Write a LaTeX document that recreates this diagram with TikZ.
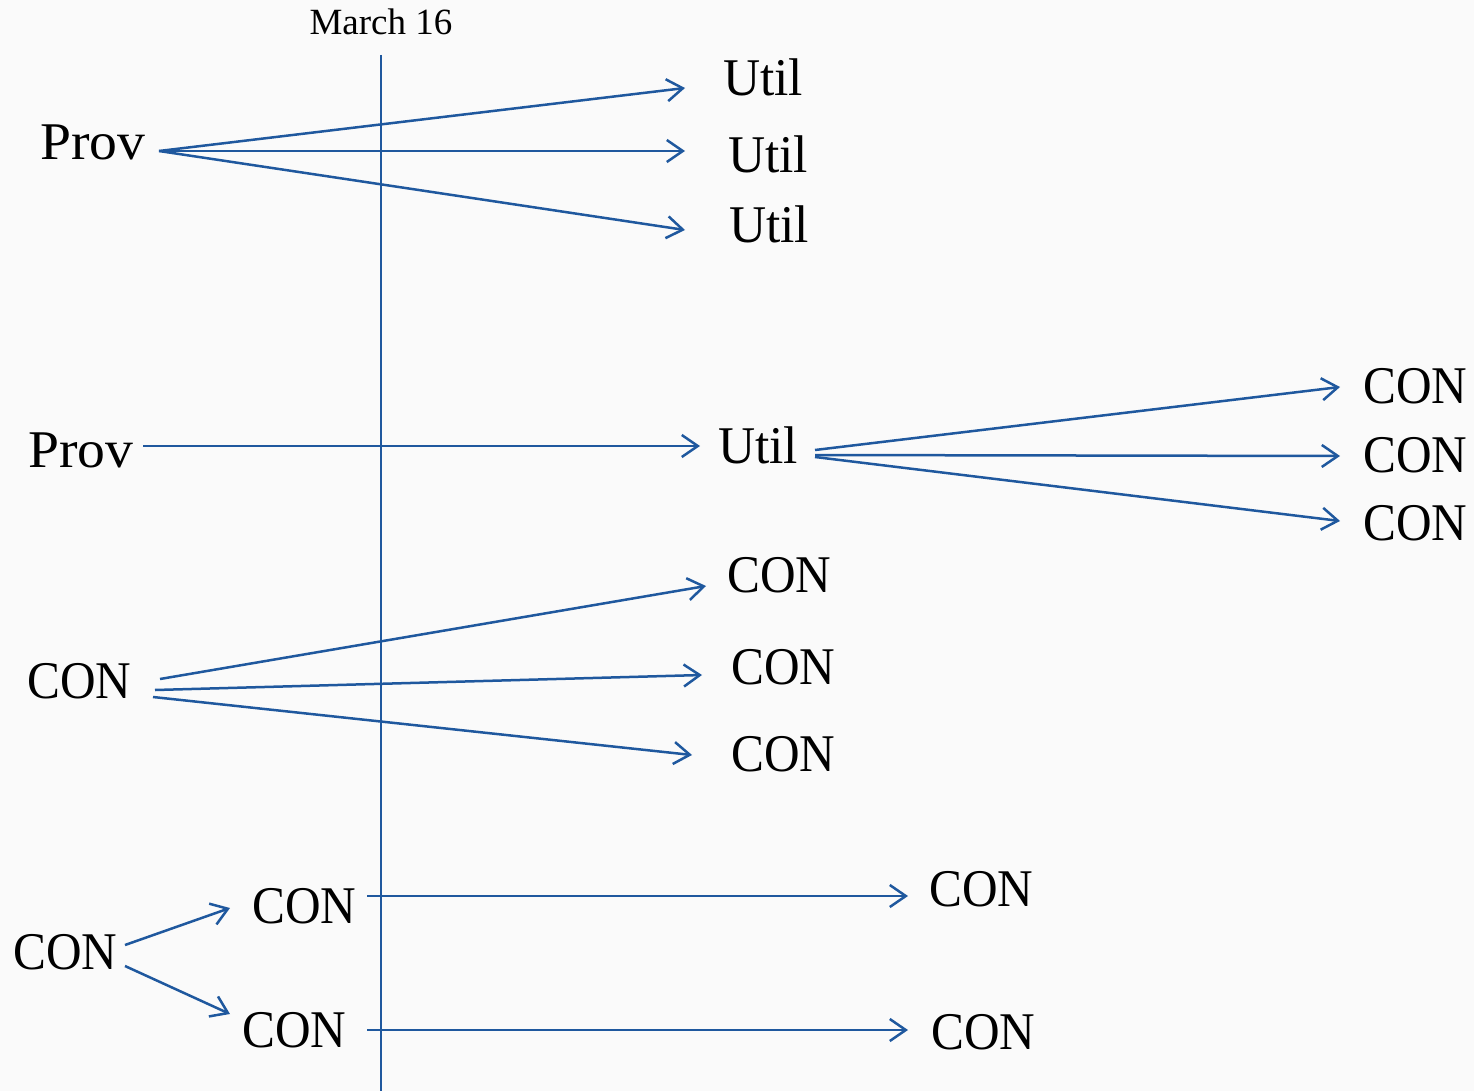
\documentclass[tikz,border=0pt]{standalone}
\usepackage{fontspec}
\usepackage{graphicx}
\setmainfont{Liberation Serif}
\usetikzlibrary{arrows.meta}
\definecolor{lineblue}{RGB}{31,88,158}
\definecolor{bgc}{RGB}{250,250,250}
\newcommand{\mycon}{\scalebox{0.93}[1]{CON}}
\newcommand{\myutil}{\scalebox{0.97}[1]{Util}}
\newcommand{\myprov}{\scalebox{1.05}[1]{Prov}}
\tikzset{
  lbl/.style={anchor=base west, inner sep=0pt, font=\fontsize{53}{60}\selectfont},
  arr/.style={draw=lineblue, line width=2.5pt, -{Straight Barb[length=16pt,width=22pt,line width=2.5pt]}},
  vline/.style={draw=lineblue, line width=2.5pt}
}
\begin{document}
\begin{tikzpicture}[x=1pt,y=-1pt]
\fill[bgc] (0,0) rectangle (1474,1091);
\useasboundingbox (0,0) rectangle (1474,1091);
% timeline
\node[anchor=base, inner sep=0pt, font=\fontsize{37}{44}\selectfont] (ttl) at (381,35) {March 16};
\coordinate (tl) at (381,55);
\coordinate (bl) at (381,1091);
\draw[vline] (tl) -- (bl);
% group 1
\node[lbl] (p1) at (40,160) {\myprov};
\node[lbl] (u1) at (723,96) {\myutil};
\node[lbl] (u2) at (728,173) {\myutil};
\node[lbl] (u3) at (729,243) {\myutil};
\draw[arr] ([shift={(119,-9)}]p1.base west) -- ([shift={(-38,-8)}]u1.base west);
\draw[arr] ([shift={(119,-9)}]p1.base west) -- ([shift={(-43,-22)}]u2.base west);
\draw[arr] ([shift={(119,-9)}]p1.base west) -- ([shift={(-44,-13)}]u3.base west);
% group 2
\node[lbl] (p2) at (28,467) {\myprov};
\node[lbl] (u4) at (718,463) {\myutil};
\node[lbl] (c1) at (1363,403) {\mycon};
\node[lbl] (c2) at (1363,472) {\mycon};
\node[lbl] (c3) at (1363,540) {\mycon};
\draw[arr] ([shift={(115,-21)}]p2.base west) -- ([shift={(-18,-17)}]u4.base west);
\draw[arr] ([shift={(97,-13)}]u4.base west) -- ([shift={(-23,-16)}]c1.base west);
\draw[arr] ([shift={(97,-8)}]u4.base west) -- ([shift={(-23,-16)}]c2.base west);
\draw[arr] ([shift={(97,-6)}]u4.base west) -- ([shift={(-23,-19)}]c3.base west);
% group 3
\node[lbl] (c4) at (27,698) {\mycon};
\node[lbl] (c5) at (727,592) {\mycon};
\node[lbl] (c6) at (731,684) {\mycon};
\node[lbl] (c7) at (731,771) {\mycon};
\draw[arr] ([shift={(133,-19)}]c4.base west) -- ([shift={(-21,-6)}]c5.base west);
\draw[arr] ([shift={(128,-8)}]c4.base west) -- ([shift={(-29,-9)}]c6.base west);
\draw[arr] ([shift={(126,-1)}]c4.base west) -- ([shift={(-39,-16)}]c7.base west);
% group 4
\node[lbl] (c8) at (13,969) {\mycon};
\node[lbl] (c9) at (252,923) {\mycon};
\node[lbl] (c10) at (242,1047) {\mycon};
\node[lbl] (c11) at (929,906) {\mycon};
\node[lbl] (c12) at (931,1049) {\mycon};
\draw[arr] ([shift={(112,-24)}]c8.base west) -- ([shift={(-22,-15)}]c9.base west);
\draw[arr] ([shift={(112,-3)}]c8.base west) -- ([shift={(-12,-33)}]c10.base west);
\draw[arr] ([shift={(115,-27)}]c9.base west) -- ([shift={(-21,-10)}]c11.base west);
\draw[arr] ([shift={(125,-17)}]c10.base west) -- ([shift={(-23,-19)}]c12.base west);
\end{tikzpicture}
\end{document}
